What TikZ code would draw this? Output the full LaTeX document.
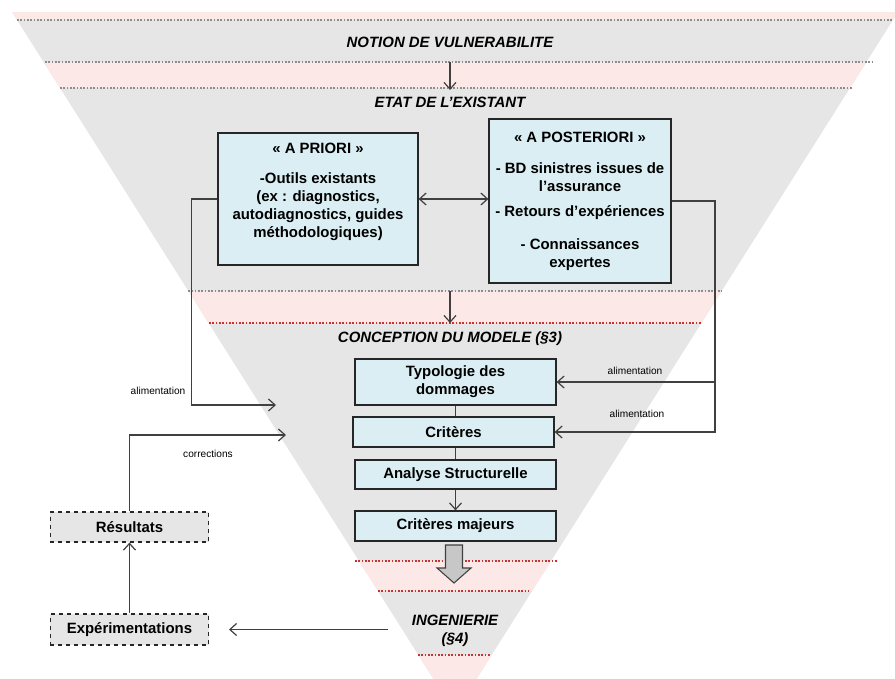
\documentclass[tikz,border=0pt]{standalone}
\usepackage{fontspec}
\setmainfont{Liberation Sans}
\usetikzlibrary{positioning,arrows.meta,calc}

\definecolor{fondgris}{HTML}{E6E6E6}
\definecolor{fondrose}{HTML}{FDE8E8}
\definecolor{bleuboite}{HTML}{DAEEF3}
\definecolor{trait}{HTML}{404040}
\definecolor{pointrouge}{HTML}{C83232}
\definecolor{pointgris}{HTML}{8C8C8C}

\begin{document}
\begin{tikzpicture}[
    x=0.75pt, y=-0.75pt,
    % Styles des noeuds
    every node/.style={font=\bfseries\fontsize{11.2}{13.5}\selectfont},
    boite/.style={draw=black!85, line width=0.9pt, fill=bleuboite,
                  align=center, inner sep=0pt},
    boitetir/.style={draw=black!85, dashed, line width=0.8pt, fill=fondgris,
                     minimum width=119pt, minimum height=22.5pt, inner sep=0pt},
    titre/.style={font=\bfseries\itshape\fontsize{11.2}{13.5}\selectfont, align=center},
    etiq/.style={font=\normalfont\fontsize{7.6}{9}\selectfont},
    fleche/.style={draw=trait, line width=0.9pt, -{Straight Barb[length=5pt,width=9pt]}},
    lien/.style={draw=trait, line width=0.9pt},
    ptgris/.style={draw=pointgris, line width=1.4pt, dash pattern=on 1.3pt off 1.2pt},
    ptrouge/.style={draw=pointrouge, line width=1.5pt, dash pattern=on 1.3pt off 1.2pt}
]
\useasboundingbox (0,0) rectangle (895,678);

% Entonnoir
\fill[fondgris] (12,12) -- (898,12) -- (455,713) -- cycle;
\begin{scope}
    \clip (12,12) -- (898,12) -- (455,713) -- cycle;
    \fill[fondrose] (0,12) rectangle (900,20);
    \fill[fondrose] (0,62) rectangle (900,88);
    \fill[fondrose] (0,291) rectangle (900,323);
    \fill[fondrose] (0,561) rectangle (900,591);
    \fill[fondrose] (0,655) rectangle (900,720);
\end{scope}

% Lignes pointillees
\draw[ptgris] (17,20) -- (893,20);
\draw[ptgris] (45,62) -- (872,62);
\draw[ptgris] (60,88) -- (853,88);
\draw[ptgris] (188,291) -- (722,291);
\draw[ptrouge] (209,323) -- (702,323);
\draw[ptrouge] (355,561) -- (557,561);
\draw[ptrouge] (378,591) -- (529,591);
\draw[ptrouge] (418,655) -- (490,655);

% Titres des niveaux
\node[titre] (notion) at (450,42) {NOTION DE VULNERABILITE};
\node[titre] (etat) at (450,102) {ETAT DE L’EXISTANT};
\node[titre] (conception) at (450,339) {CONCEPTION DU MODELE (§3)};
\node[titre] (inge) at (455,631) {INGENIERIE\\(§4)};

\coordinate (haut1) at (450,62);
\coordinate (bas1) at (450,90);
\draw[fleche] (haut1) -- (bas1);
\coordinate (haut2) at (450,291);
\draw[fleche] (haut2) -- (haut2 |- 0,323);

% Etat de l'existant
\node[boite, minimum width=150pt, minimum height=99pt] (priori) at (318,199)
    {«~A PRIORI~»\\[9pt]-Outils existants\\(ex : diagnostics,\\autodiagnostics, guides\\méthodologiques)\\\mbox{}};
\node[boite, minimum width=136.5pt, minimum height=123pt] (posteriori) at (580,201)
    {«~A POSTERIORI~»\\[10pt]- BD sinistres issues de\\l’assurance\\[5pt]- Retours d’expériences\\[11pt]- Connaissances\\expertes};

\draw[fleche, {Straight Barb[length=5pt,width=9pt]}-{Straight Barb[length=5pt,width=9pt]}]
    (priori.east) -- (posteriori.west |- priori.east);

% Conception du modele
\node[boite, minimum width=150.75pt, minimum height=34.5pt] (typologie) at (455.5,382) {Typologie des\\dommages};
\node[boite, minimum width=150.75pt, minimum height=22.5pt] (criteres) at (453.5,432) {Critères};
\node[boite, minimum width=150.75pt, minimum height=21.75pt] (analyse) at (455.5,474.5) {Analyse Structurelle};
\node[boite, minimum width=150.75pt, minimum height=22.5pt] (majeurs) at (455.5,526) {Critères majeurs};

\draw[lien] (typologie.south) -- (typologie.south |- criteres.north);
\draw[lien] (analyse.north |- criteres.south) -- (analyse.north);
\draw[fleche] (analyse.south) -- (majeurs.north);

% Fleche pleine vers l'ingenierie
\filldraw[draw=trait, fill=black!22, line width=0.8pt]
    (445.5,545) -- (462.5,545) -- (462.5,568) -- (471,568) -- (454,583)
    -- (437,568) -- (445.5,568) -- cycle;

% Alimentations
\coordinate (cibleA) at (276,405);
\draw[fleche] (priori.west) -- ++(-26,0) |- (cibleA);
\node[etiq] (alimA) at (158,391) {alimentation};

\coordinate (jonction) at (715,382);
\draw[fleche] (posteriori.east) -- (jonction |- posteriori.east) |- (criteres.east);
\draw[fleche] (jonction) -- (typologie.east);
\node[etiq] (alimB) at (635,371) {alimentation};
\node[etiq] (alimC) at (637,414) {alimentation};

% Boucle experimentale
\node[boitetir] (resultats) at (129.5,527) {Résultats};
\node[boitetir, minimum height=23.25pt] (experim) at (129.5,629.5) {Expérimentations};

\coordinate (depart) at (388,629.5);
\coordinate (arrivee) at (229,629.5);
\draw[fleche] (depart) -- (arrivee);
\draw[fleche] (experim.north) -- (resultats.south);

\coordinate (cibleC) at (286,435);
\draw[fleche] (resultats.north) |- (cibleC);
\node[etiq] (corr) at (208,454) {corrections};

\end{tikzpicture}
\end{document}
